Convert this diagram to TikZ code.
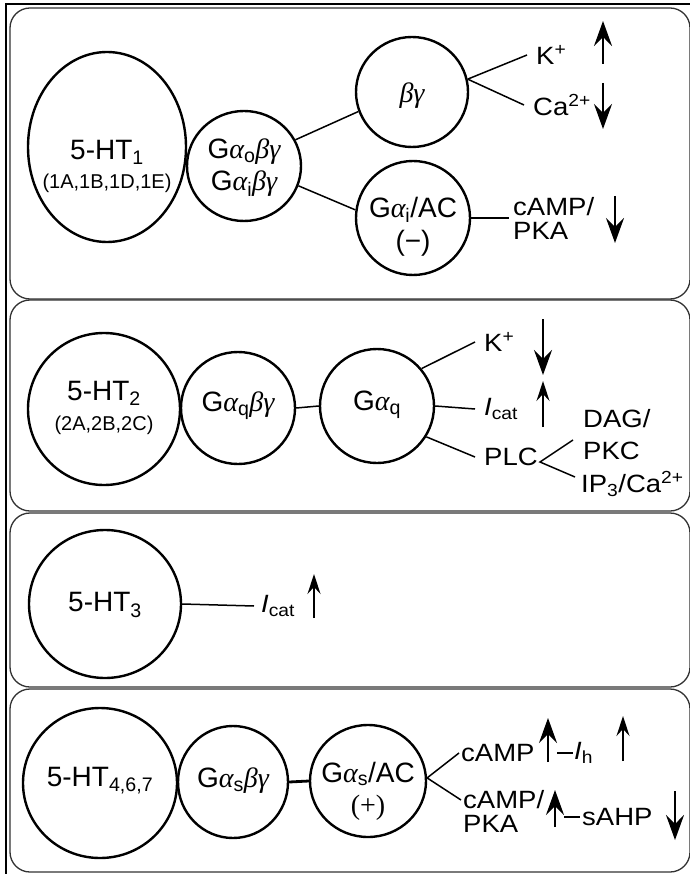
\documentclass[tikz,border=0pt]{standalone}
\usepackage{fontspec}
\setmainfont{Liberation Sans}
\newfontfamily\grkfont{Liberation Serif}
\newfontfamily\widefont{Liberation Sans}[FakeStretch=1.1]
\usetikzlibrary{shapes.geometric,arrows.meta}

% italic Greek letters in a Times-like face
\newcommand\galpha{{\grkfont\itshape α}}
\newcommand\gbeta{{\grkfont\itshape β}}
\newcommand\ggamma{{\grkfont\itshape γ}}

\tikzset{
  panel/.style={draw=black!80, line width=1.3pt, rounded corners=20pt},
  bubble/.style={ellipse, draw, line width=2.4pt, inner sep=0pt},
  link/.style={line width=1.5pt},
  side/.style={inner xsep=9pt, inner ysep=1pt, anchor=west, align=left,
    font=\widefont\fontsize{25}{24}\selectfont},
  sidetight/.style={side, inner xsep=2pt},
  biglbl/.style={inner sep=0pt, font=\fontsize{28}{30}\selectfont},
  glbl/.style={inner sep=0pt, font=\fontsize{28}{30}\selectfont},
  sublbl/.style={inner sep=0pt, font=\fontsize{20}{24}\selectfont},
  boldarrow/.style={line width=2pt, -{Stealth[length=25pt,width=18pt,inset=9pt]}},
  thinarrow/.style={line width=1.6pt, -{Stealth[length=20pt,width=13pt,inset=7pt]}},
}

\begin{document}
\begin{tikzpicture}[x=1pt,y=-1pt]
\useasboundingbox (0,0) rectangle (689,874);

% outer frame and the four panels
\draw[line width=1.5pt] (692,4) -- (6,4) -- (6,880);
\draw[panel] (10,8) rectangle (690,299);
\draw[panel] (10,300) rectangle (690,511);
\draw[panel] (10,513) rectangle (690,687);
\draw[panel] (10,689) rectangle (690,872);

% ---------- 5-HT1 ----------
\node[bubble, minimum width=158pt, minimum height=190pt] (r1) at (107,147) {};
\node[biglbl] (r1t) at (107,152) {5-HT\textsubscript{1}};
\node[sublbl] (r1s) at (107,183) {(1A,1B,1D,1E)};
\node[bubble, minimum width=114pt, minimum height=110pt] (g1) at (244,166) {};
\node[glbl] (g1a) at (244,152) {G\galpha\textsubscript{o}\gbeta\ggamma};
\node[glbl] (g1b) at (244,184) {G\galpha\textsubscript{i}\gbeta\ggamma};
\node[bubble, minimum width=112pt, minimum height=110pt] (bg) at (412,92) {};
\node[glbl] (bgt) at (412,96) {\gbeta\ggamma};
\node[bubble, minimum width=114pt, minimum height=114pt] (ac1) at (413,218) {};
\node[glbl] (ac1a) at (413,210) {G\galpha\textsubscript{i}/AC};
\node[glbl] (ac1b) at (413,243) {(−)};

\draw[link] (g1.27) -- (bg.200);
\draw[link] (g1.-20) -- (ac1.172);

\node[side] (kp1) at (527,55) {K\textsuperscript{+}};
\node[side] (ca1) at (524,105) {Ca\textsuperscript{2+}};
\node[side, inner xsep=4pt] (camp1) at (509,218) {cAMP/\\PKA};
\draw[link] (bg.13) -- (kp1.west);
\draw[link] (bg.13) -- (ca1.west);
\draw[link] (ac1.east) -- (camp1.west);

\coordinate (u1a) at (603,64);  \coordinate (u1b) at (603,21);
\coordinate (d1a) at (603,83);  \coordinate (d1b) at (603,129);
\coordinate (d2a) at (615,196); \coordinate (d2b) at (615,243);
\draw[boldarrow] (u1a) -- (u1b);
\draw[boldarrow] (d1a) -- (d1b);
\draw[boldarrow] (d2a) -- (d2b);

% ---------- 5-HT2 ----------
\node[bubble, minimum width=152pt, minimum height=152pt] (r2) at (104,409) {};
\node[biglbl] (r2t) at (104,393) {5-HT\textsubscript{2}};
\node[sublbl] (r2s) at (104,425) {(2A,2B,2C)};
\node[bubble, minimum width=114pt, minimum height=112pt] (g2) at (238,408) {};
\node[glbl] (g2t) at (238,406) {G\galpha\textsubscript{q}\gbeta\ggamma};
\node[bubble, minimum width=114pt, minimum height=114pt] (gq) at (377,406) {};
\node[glbl] (gqt) at (377,405) {G\galpha\textsubscript{q}};
\draw[link] (g2.east) -- (gq.west);

\node[side] (kp2) at (475,342) {K\textsuperscript{+}};
\node[side] (ic2) at (475,409) {\textit{I}\textsubscript{cat}};
\node[side] (plc) at (475,457) {PLC};
\node[sidetight] (dag) at (581,419) {DAG/};
\node[sidetight] (pkc) at (581,451) {PKC};
\node[sidetight] (ip3) at (579,484) {IP\textsubscript{3}/Ca\textsuperscript{2+}};
\draw[link] (gq.40) -- (kp2.west);
\draw[link] (gq.0) -- (ic2.west);
\draw[link] (gq.-32) -- (plc.west);
\coordinate (fork) at (540,462);
\coordinate (dagtip) at (573,440);
\coordinate (iptip) at (575,477);
\draw[link] (dagtip) -- (fork) -- (iptip);

\coordinate (d3a) at (543,319); \coordinate (d3b) at (543,375);
\coordinate (u3a) at (543,427); \coordinate (u3b) at (543,381);
\draw[boldarrow] (d3a) -- (d3b);
\draw[thinarrow] (u3a) -- (u3b);

% ---------- 5-HT3 ----------
\node[bubble, minimum width=152pt, minimum height=148pt] (r3) at (105,604) {};
\node[biglbl] (r3t) at (105,605) {5-HT\textsubscript{3}};
\node[side, inner xsep=7pt] (ic3) at (254,606) {\textit{I}\textsubscript{cat}};
\draw[link] (r3.east) -- (ic3.west);
\coordinate (u4a) at (314,618); \coordinate (u4b) at (314,574);
\draw[thinarrow] (u4a) -- (u4b);

% ---------- 5-HT4,6,7 ----------
\node[bubble, minimum width=154pt, minimum height=150pt] (r4) at (100,783) {};
\node[biglbl] (r4t) at (100,781) {5-HT\textsubscript{4,6,7}};
\node[bubble, minimum width=110pt, minimum height=112pt] (g4) at (233,782) {};
\node[glbl] (g4t) at (233,781) {G\galpha\textsubscript{s}\gbeta\ggamma};
\node[bubble, minimum width=116pt, minimum height=112pt] (ac4) at (368,781) {};
\node[glbl] (ac4a) at (368,774) {G\galpha\textsubscript{s}/AC};
\node[glbl] (ac4b) at (368,808) {{\grkfont(+)}};
\draw[link, line width=2.8pt] (g4.east) -- (ac4.west);

\node[sidetight] (camp4) at (459,753) {cAMP};
\node[sidetight] (camp4b) at (461,800) {cAMP/};
\node[sidetight] (pka4) at (461,824) {PKA};
\node[sidetight, inner xsep=1pt] (ih) at (573,753) {\textit{I}\textsubscript{h}};
\node[sidetight] (sahp) at (580,817) {sAHP};
\draw[link] (ac4.3) -- (camp4.west);
\draw[link] (ac4.3) -- (camp4b.west);

\coordinate (u5a) at (548,762); \coordinate (u5b) at (548,718);
\coordinate (u6a) at (623,761); \coordinate (u6b) at (623,716);
\coordinate (u7a) at (555,827); \coordinate (u7b) at (555,790);
\coordinate (d5a) at (675,791); \coordinate (d5b) at (675,840);
\draw[boldarrow] (u5a) -- (u5b);
\draw[thinarrow] (u6a) -- (u6b);
\draw[boldarrow] (u7a) -- (u7b);
\draw[boldarrow] (d5a) -- (d5b);

\coordinate (h1) at (557,753);
\coordinate (h2) at (564,817);
\draw[link] (h1) -- (ih.west);
\draw[link] (h2) -- (sahp.west);
\end{tikzpicture}
\end{document}
